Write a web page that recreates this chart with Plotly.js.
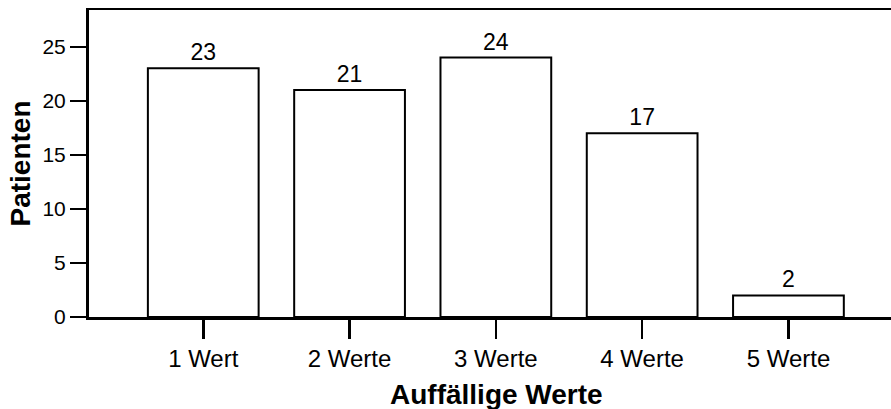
<!DOCTYPE html>
<html>
<head>
<meta charset="utf-8">
<script src="https://cdn.plot.ly/plotly-3.0.1.min.js"></script>
<style>html,body{margin:0;padding:0;background:#fff;}#chart{width:891px;height:409px;}</style>
</head>
<body>
<div id="chart"></div>
<script>
var categories = ["1 Wert", "2 Werte", "3 Werte", "4 Werte", "5 Werte"];
var patients = [23, 21, 24, 17, 2];
var yTickValues = [0, 5, 10, 15, 20, 25];
var xTitle = "Auffällige Werte";
var yTitle = "Patienten";

var FONT = "Liberation Sans, Arial, Helvetica, sans-serif";

var trace = {
  type: "bar",
  x: categories,
  y: patients,
  width: 0.757,
  marker: {color: "#ffffff", line: {color: "#000000", width: 2}},
  text: patients.map(String),
  textposition: "outside",
  textfont: {family: FONT, size: 23, color: "#000"},
  cliponaxis: false,
  hoverinfo: "x+y"
};

var layout = {
  width: 891,
  height: 409,
  margin: {l: 89, r: 0, t: 10, b: 92},
  paper_bgcolor: "#fff",
  plot_bgcolor: "#fff",
  showlegend: false,
  font: {family: FONT, color: "#000"},
  xaxis: {
    type: "category",
    range: [-0.781, 4.701],
    showline: true,
    linecolor: "#000",
    linewidth: 2.5,
    mirror: true,
    ticks: "outside",
    ticklen: 19,
    tickwidth: 2.5,
    tickcolor: "#000",
    tickfont: {family: FONT, size: 24, color: "#000"},
    showgrid: false,
    zeroline: false,
    fixedrange: true
  },
  yaxis: {
    range: [0, 28.4],
    tickvals: yTickValues,
    showline: true,
    linecolor: "#000",
    linewidth: 3,
    ticks: "outside",
    ticklen: 16,
    tickwidth: 2,
    tickcolor: "#000",
    tickfont: {family: FONT, size: 21, color: "#000"},
    showgrid: false,
    zeroline: false,
    title: {text: yTitle, font: {family: FONT, size: 28, color: "#000", weight: "bold"}, standoff: 4},
    fixedrange: true
  },
  annotations: [{
    text: "<b>" + xTitle + "</b>",
    xref: "paper", yref: "paper",
    x: 0.5087, y: -0.254,
    xanchor: "center", yanchor: "middle",
    showarrow: false,
    font: {family: FONT, size: 28, color: "#000"}
  }]
};

Plotly.newPlot("chart", [trace], layout, {displayModeBar: false, staticPlot: true});
</script>
</body>
</html>
